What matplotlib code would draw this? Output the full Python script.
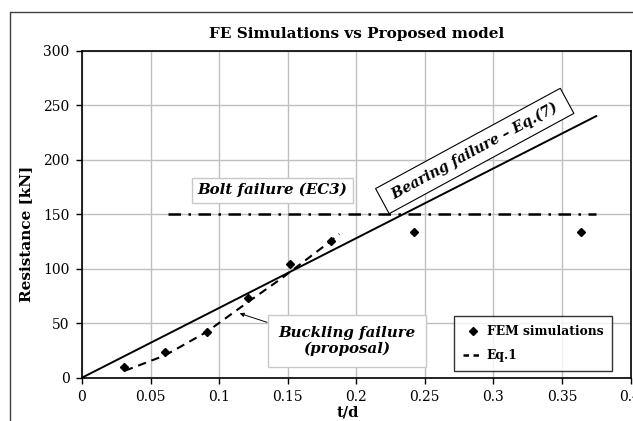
import matplotlib.pyplot as plt
from matplotlib.lines import Line2D

plt.rcParams['font.family'] = ['DejaVu Serif']

# FEM simulation results
fem_td = [0.0303, 0.0606, 0.0909, 0.1212, 0.1515, 0.1818, 0.2424, 0.3636]
fem_res = [9.8, 23.3, 42.2, 72.8, 104.0, 125.7, 134.0, 134.0]

# Eq.1 (buckling proposal)
eq1_td = [0.0313, 0.0606, 0.0909, 0.1212, 0.1456, 0.1818, 0.1876]
eq1_res = [6.4, 20.5, 42.0, 69.5, 91.2, 125.7, 131.8]

# bearing failure Eq.(7)
bearing_td = [0.0, 0.375]
bearing_res = [0.0, 240.0]

# bolt failure (EC3)
bolt_td = [0.0625, 0.375]
bolt_res = [150.0, 150.0]

xticks = [0, 0.05, 0.1, 0.15, 0.2, 0.25, 0.3, 0.35, 0.4]
xticklabels = ['0', '0.05', '0.1', '0.15', '0.2', '0.25', '0.3', '0.35', '0.4']
yticks = [0, 50, 100, 150, 200, 250, 300]

fig = plt.figure(figsize=(6.33, 4.21), dpi=100)
ax = fig.add_axes([82 / 633, 1 - 377.7 / 421, 548.5 / 633, 327 / 421])

ax.plot(bearing_td, bearing_res, color='black', lw=1.4, zorder=3)
ax.plot(bolt_td, bolt_res, color='black', lw=1.8, dashes=(5, 3, 1, 3), zorder=3)
ax.plot(eq1_td, eq1_res, color='black', lw=1.5, dashes=(4, 2.8), zorder=3)
ax.plot(fem_td, fem_res, 'D', color='black', ms=4, zorder=4)

ax.set_xlim(0, 0.4)
ax.set_ylim(0, 300)
ax.set_xticks(xticks)
ax.set_xticklabels(xticklabels)
ax.set_yticks(yticks)
ax.tick_params(direction='out', length=4, width=1, labelsize=10, pad=5)
ax.grid(True, color='#c0c0c0', lw=1)
ax.set_axisbelow(True)
for s in ax.spines.values():
    s.set_linewidth(1.2)

ax.set_title('FE Simulations vs Proposed model', fontsize=11, fontweight='bold', pad=9)
ax.set_ylabel('Resistance [kN]', fontsize=11, fontweight='bold')
ax.yaxis.set_label_coords(-0.09, 0.44)
ax.set_xlabel('t/d', fontsize=10.5, fontweight='bold')
ax.xaxis.set_label_coords(0.485, -0.085)

ax.text(0.139, 172, 'Bolt failure (EC3)', fontsize=10.8, fontweight='bold', style='italic',
        ha='center', va='center', zorder=5,
        bbox=dict(boxstyle='square,pad=0.35', fc='white', ec='#c8c8c8', lw=1))

ax.text(0.2864, 208, ' Bearing failure – Eq.(7) ', fontsize=10.2, fontweight='bold', style='italic',
        ha='center', va='center', rotation=28.5, rotation_mode='anchor', zorder=5,
        bbox=dict(boxstyle='square,pad=0.5', fc='white', ec='black', lw=0.8))

ax.annotate('Buckling failure\n(proposal)', xy=(0.115, 59), xytext=(0.193, 33.7),
            fontsize=10.8, fontweight='bold', style='italic', ha='center', va='center',
            linespacing=1.15, zorder=5,
            bbox=dict(boxstyle='square,pad=0.7', fc='white', ec='#c8c8c8', lw=1),
            arrowprops=dict(arrowstyle='-|>', color='black', lw=0.7, mutation_scale=6,
                            shrinkA=0, shrinkB=0, relpos=(0, 1)))

handles = [Line2D([], [], marker='D', color='black', ls='none', ms=4),
           Line2D([], [], color='black', lw=1.8, dashes=(2.2, 1.8))]
leg = ax.legend(handles, ['FEM simulations', 'Eq.1'], loc='lower right',
                bbox_to_anchor=(612.3 / 633, 1 - 371 / 421), bbox_transform=fig.transFigure,
                prop={'weight': 'bold', 'size': 8.8}, frameon=True, fancybox=False,
                edgecolor='black', handlelength=1.6, handletextpad=0.3, borderpad=0.75,
                labelspacing=0.85, borderaxespad=0)
leg.get_frame().set_linewidth(1)
leg.set_zorder(6)

# outer chart border
fig.add_artist(Line2D([10 / 633, 10 / 633, 1.1], [-0.1, 1 - 11.7 / 421, 1 - 11.7 / 421],
                      transform=fig.transFigure, color='#404040', lw=1))

fig.savefig('out.png', dpi=100)
